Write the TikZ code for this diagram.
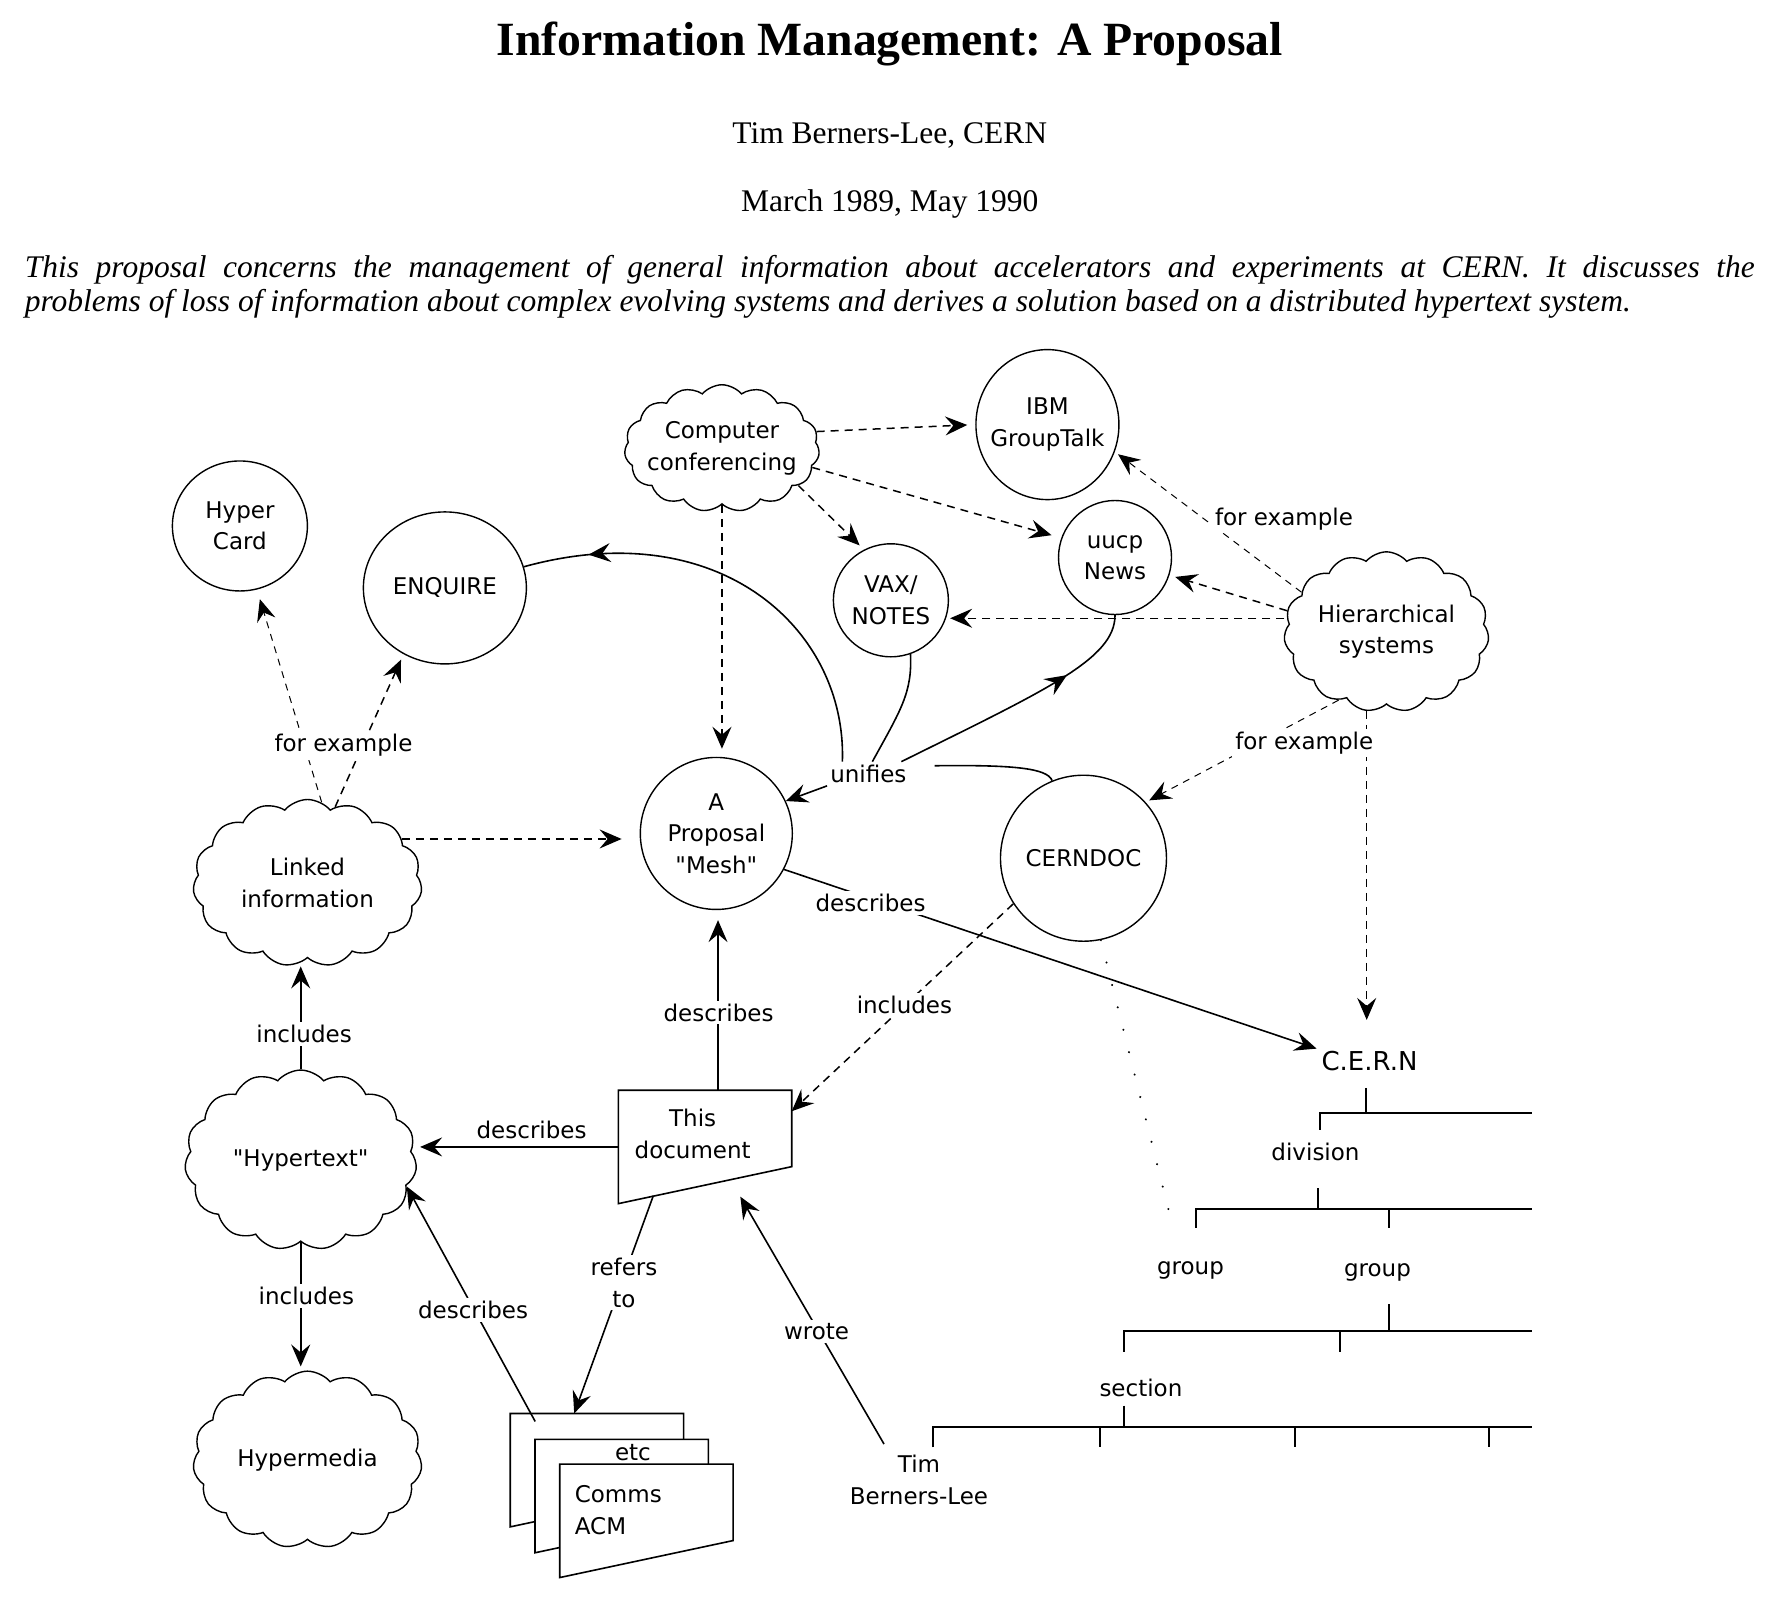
\documentclass[tikz,border=0pt]{standalone}
\usepackage{fontspec}
\setmainfont{Liberation Serif}
\newfontfamily\diafont{DejaVu Sans}
\usetikzlibrary{shapes.geometric,shapes.symbols,arrows.meta,decorations.markings}

\begin{document}
\begin{tikzpicture}[
        x=1.1263pt, y=-1.1263pt,
        every node/.style={font=\diafont\fontsize{23}{31.5}\selectfont, align=center, inner sep=1pt},
        bubble/.style={ellipse, draw, line width=1.4pt, inner sep=-15pt},
        puff/.style={cloud, cloud puffs=15, cloud puff arc=100, cloud ignores aspect, draw, line width=1.4pt, inner sep=0pt, label=center:{#1}},
        docbox/.style={rectangle, minimum width=173pt, minimum height=113pt, anchor=north west},
        docline/.style={line width=1.6pt, fill=white},
        tip/.style={-{Stealth[length=22pt,width=19pt,inset=8pt]}},
        midtip/.style={postaction={decorate}, decoration={markings,
                mark=at position #1 with {\arrow{Stealth[length=22pt,width=19pt,inset=8pt]}}}},
        link/.style={line width=1.6pt},
        dlink/.style={line width=1.5pt, dash pattern=on 8pt off 6pt},
        flink/.style={line width=1pt, dash pattern=on 7pt off 6pt},
        dotlink/.style={line width=2.2pt, line cap=round, dash pattern=on 0.1pt off 23pt},
        lbl/.style={fill=white, inner sep=3pt},
        tree/.style={line width=2pt},
        heading/.style={font=\fontsize{47.7}{50}\selectfont\bfseries, anchor=base},
        body/.style={font=\fontsize{31.5}{35}\selectfont, anchor=base},
        abstract/.style={font=\fontsize{31.5}{35}\selectfont\itshape, anchor=base west, align=left}
    ]
    \useasboundingbox (0,0) rectangle (1568,1433);

    % header
    \node[heading] (title) at (790,49) {Information Management: A Proposal};
    \node[body] (author) at (790,127) {Tim Berners-Lee, CERN};
    \node[body] (date) at (790,188) {March 1989, May 1990};
    \node[abstract] (abs1) at (21,246) {\makebox[1730pt][s]{This proposal concerns the management of general information about accelerators and experiments at CERN. It discusses the}};
    \node[abstract] (abs2) at (21,277) {problems of loss of information about complex evolving systems and derives a solution based on a distributed hypertext system.};

    % clouds and bubbles
    \node[puff={Computer\\conferencing}, minimum width=195pt, minimum height=127pt] (conf) at (641,398) {};
    \node[bubble, minimum width=143pt, minimum height=150pt] (ibm) at (930,377) {IBM\\GroupTalk};
    \node[bubble, minimum width=135pt, minimum height=130pt] (hcard) at (213,467) {Hyper\\Card};
    \node[bubble, minimum width=163pt, minimum height=152pt] (enquire) at (395,522) {ENQUIRE};
    \node[bubble, minimum width=115pt, minimum height=113pt] (vax) at (791,533) {VAX/\\NOTES};
    \node[bubble, minimum width=113pt, minimum height=114pt] (uucp) at (990,495) {uucp\\News};
    \node[puff={Hierarchical\\systems}, minimum width=205pt, minimum height=160pt] (hier) at (1231,561) {};
    \node[puff={Linked\\information}, minimum width=229pt, minimum height=167pt] (linked) at (273,784) {};
    \node[bubble, minimum size=152pt] (mesh) at (636,740) {A\\Proposal\\"Mesh"};
    \node[bubble, minimum size=166pt] (cerndoc) at (962,762) {CERNDOC};
    \node[puff={"Hypertext"}, minimum width=232pt, minimum height=180pt] (hypertext) at (267,1030) {};
    \node[puff={Hypermedia}, minimum width=229pt, minimum height=177pt] (hypermedia) at (273,1296) {};

    % documents
    \node[docbox] (thisdoc) at (549,968) {};
    \draw[docline] (thisdoc.north west) -- (thisdoc.north east) -- ([yshift=37pt]thisdoc.south east) -- (thisdoc.south west) -- cycle;
    \node (thisdoctxt) at (615,1007) {This\\document};
    \foreach \i/\x/\y in {0/453/1255, 1/475/1278, 2/497/1300} {
        \node[docbox] (acm\i) at (\x,\y) {};
        \draw[docline] (acm\i.north west) -- (acm\i.north east) -- ([yshift=37pt]acm\i.south east) -- (acm\i.south west) -- cycle;
    }
    \node (etc) at (562,1290) {etc};
    \node[align=left] (acmtxt) at (549,1341) {Comms\\ACM};
    \node (tbl) at (816,1314) {Tim\\Berners-Lee};

    % the tree
    \node[font=\diafont\fontsize{26}{30}\selectfont] (cern) at (1216,942) {C.E.R.N};
    \node (division) at (1168,1023) {division};
    \node (group1) at (1057,1128) {group};
    \node (group2) at (1223,1130) {group};
    \node (section) at (1013,1232) {section};
    \draw[tree] (1213,966) -- (1213,988);
    \draw[tree] (1172,1003) -- (1172,988) -- (1360,988);
    \draw[tree] (1170,1055) -- (1170,1073);
    \draw[tree] (1062,1090) -- (1062,1073) -- (1360,1073);
    \draw[tree] (1233,1073) -- (1233,1090);
    \draw[tree] (1233,1158) -- (1233,1182);
    \draw[tree] (998,1200) -- (998,1182) -- (1360,1182);
    \draw[tree] (1190,1182) -- (1190,1200);
    \draw[tree] (998,1248) -- (998,1267);
    \draw[tree] (828,1285) -- (828,1267) -- (1360,1267);
    \foreach \x in {977,1150,1322}
        \draw[tree] (\x,1267) -- (\x,1285);
    \coordinate (dotend) at (1042,1092);

    % dashed links
    \draw[dlink, tip, shorten >=8pt] (conf.10) -- (ibm.west);
    \draw[dlink, tip, shorten >=10pt] (conf.-12) -- (uucp.160);
    \draw[dlink, tip, shorten >=6pt] (conf.-26) -- (vax.118);
    \draw[dlink, tip, shorten >=8pt] (conf.south) -- (conf.south |- mesh.north);
    \draw[flink, tip, shorten >=4pt] (hier.155) -- (ibm.-22);
    \draw[dlink, tip, shorten >=6pt] (hier.168) -- (uucp.-18);
    \draw[dlink, tip, shorten >=4pt] (vax.-18 -| hier.west) -- (vax.-18);
    \draw[flink, tip, shorten >=4pt] (hier.-125) -- (cerndoc.42);
    \draw[dlink, tip, shorten >=30pt] (hier.-104) -- (hier.-104 |- cern.north);
    \draw[flink, tip, shorten >=10pt] (linked.80) -- (hcard.-75);
    \draw[dlink, tip, shorten >=6pt] (linked.70) -- (enquire.-122);
    \draw[dlink, tip, shorten >=18pt] (linked.25) -- (linked.25 -| mesh.west);
    \draw[dlink, tip] (cerndoc.-147) -- ([yshift=-21pt]thisdoc.north east);
    \draw[dotlink] (cerndoc.-78) -- (dotend);

    % solid links
    \draw[link, tip, shorten >=8pt] (hypertext.north) -- (hypertext.north |- linked.south);
    \draw[link, tip, shorten >=4pt] (hypertext.south) -- (hypertext.south |- hypermedia.north);
    \draw[link, tip, shorten >=4pt] (thisdoc.west) -- (thisdoc.west -| hypertext.east);
    \draw[link, tip, shorten >=10pt] ([xshift=13pt]thisdoc.north) -- ([xshift=13pt]thisdoc.north |- mesh.south);
    \draw[link, tip] ([xshift=25pt,yshift=-8pt]acm0.north west) -- (hypertext.-14);
    \draw[link, tip] ([xshift=35pt,yshift=8pt]thisdoc.south west) -- ([xshift=64pt]acm0.north west);
    \draw[link, tip] ([xshift=-35pt,yshift=10pt]tbl.north) -- ([xshift=122pt,yshift=7pt]thisdoc.south west);
    \draw[link, tip, shorten >=4pt] (mesh.-28) -- (cern.north west);

    % unifies
    \node[lbl] (unif) at (771,687) {unifies};
    \draw[link, midtip=0.85] ([xshift=-26pt]unif.north) .. controls (752,560) and (640,455) .. (enquire.15);
    \draw[link] ([xshift=4pt]unif.north) .. controls (800,630) and (810,615) .. (vax.-70);
    \draw[link, midtip=0.7] ([xshift=33pt]unif.north) .. controls (930,612) and (990,585) .. (uucp.south);
    \draw[link] ([xshift=25pt,yshift=8pt]unif.east) .. controls (900,679) and (930,682) .. (cerndoc.112);
    \draw[link, tip] (unif.south west) -- (mesh.25);

    % labels
    \node[lbl] (fe1) at (305,662) {for example};
    \node[lbl] (fe2) at (1140,461) {for example};
    \node[lbl] (fe3) at (1158,660) {for example};
    \node[lbl] (desc1) at (773,802) {describes};
    \node[lbl] (desc2) at (638,899) {describes};
    \node[lbl] (inc1) at (803,892) {includes};
    \node[lbl] (inc2) at (270,918) {includes};
    \node[lbl] (desc3) at (472,1003) {describes};
    \node[lbl] (inc3) at (272,1151) {includes};
    \node[lbl] (desc4) at (420,1163) {describes};
    \node[lbl] (refers) at (554,1139) {refers\\to};
    \node[lbl] (wrote) at (725,1182) {wrote};
\end{tikzpicture}
\end{document}
